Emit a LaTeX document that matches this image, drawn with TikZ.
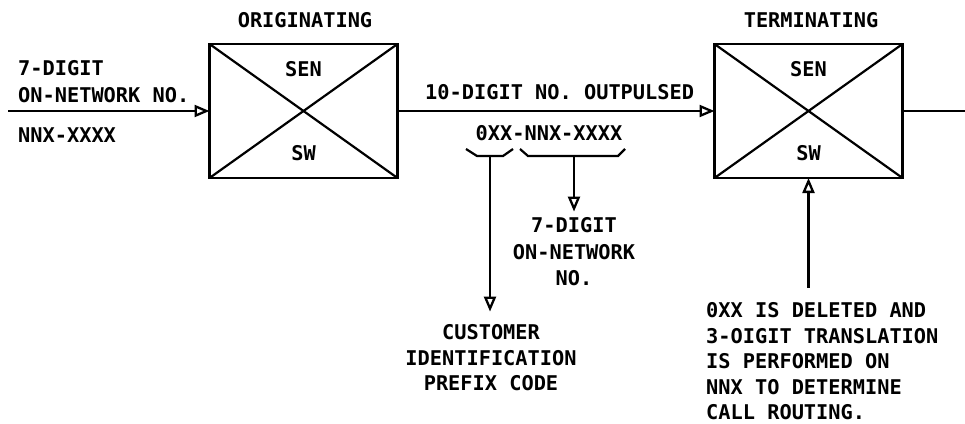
\documentclass[tikz,border=0pt]{standalone}
\usepackage{fontspec}
\setmonofont{DejaVu Sans Mono}
\usetikzlibrary{arrows.meta,calc}
\tikzset{
  lbl/.style = {inner sep=0pt, text=black,
    font=\ttfamily\bfseries\fontsize{20.3}{25.5}\selectfont},% texte simple
  lbl_c/.style = {lbl, align=center},% texte centre
  lbl_l/.style = {lbl, align=left},% texte a gauche
  swbox/.style = {rectangle, draw=black, line width=2.6pt, outer sep=0pt,
    minimum width=188pt, minimum height=134pt},% bloc SEN/SW
  sig/.style = {->, line width=2.3pt}% signal
}

\begin{document}
\begin{tikzpicture}[x=1pt,y=-1pt,>={Triangle[open,length=15pt,width=12pt]}]
\useasboundingbox (0,0) rectangle (965,423);
% blocs
\node [swbox] (orig) at (303.5,111) {};
\node [swbox] (term) at (808.5,111) {};
\draw [line width=2.2pt] (orig.north west) -- (orig.south east)
  (orig.south west) -- (orig.north east);
\draw [line width=2.2pt] (term.north west) -- (term.south east)
  (term.south west) -- (term.north east);
\node [lbl] (origname) at (305,20) {ORIGINATING};
\node [lbl] (termname) at (811,20) {TERMINATING};
\node [lbl] (origsen) at ($(orig.center)+(0,-42)$) {SEN};
\node [lbl] (origsw) at ($(orig.center)+(0,42)$) {SW};
\node [lbl] (termsen) at ($(term.center)+(0,-42)$) {SEN};
\node [lbl] (termsw) at ($(term.center)+(0,42)$) {SW};
% ligne principale
\coordinate (inL) at (8,111);
\coordinate (outR) at (965,111);
\draw [sig] (inL) -- (orig.west);
\draw [sig] (orig.east) -- (term.west);
\draw [line width=2.3pt] (term.east) -- (outR);
% textes
\node [lbl_l, anchor=north west,
  font=\ttfamily\bfseries\fontsize{20.3}{27}\selectfont] (innum) at (18,60.6)
  {7-DIGIT\\ON-NETWORK NO.};
\node [lbl, anchor=west] (infmt) at (18,135) {NNX-XXXX};
\node [lbl, anchor=west] (outnum) at (425,92) {10-DIGIT NO. OUTPULSED};
\node [lbl] (code) at (549,133) {0XX-NNX-XXXX};
\node [lbl_c, anchor=north,
  font=\ttfamily\bfseries\fontsize{20.3}{26.5}\selectfont] (local) at (574,217.6)
  {7-DIGIT\\ON-NETWORK\\NO.};
\node [lbl_c, anchor=north] (cust) at (491,324.6)
  {CUSTOMER\\IDENTIFICATION\\PREFIX CODE};
\node [lbl_l, anchor=north west] (note) at (706,302.6)
  {0XX IS DELETED AND\\3-OIGIT TRANSLATION\\IS PERFORMED ON\\NNX TO DETERMINE\\CALL ROUTING.};
% accolades
\coordinate (bA) at (490,156);
\coordinate (bB) at (574,156);
\draw [line width=2.2pt] (466,149) -- (477,156) -- (503,156) -- (513,149);
\draw [line width=2.2pt] (520,149) -- (528,156) -- (618,156) -- (625,149);
\draw [sig] (bA) -- ($(bA |- cust.north)+(0,-13)$);
\draw [sig] (bB) -- ($(bB |- local.north)+(0,-6)$);
\draw [sig] ($(note.north -| term.south)+(0,-15)$) -- (term.south);
\end{tikzpicture}
\end{document}
